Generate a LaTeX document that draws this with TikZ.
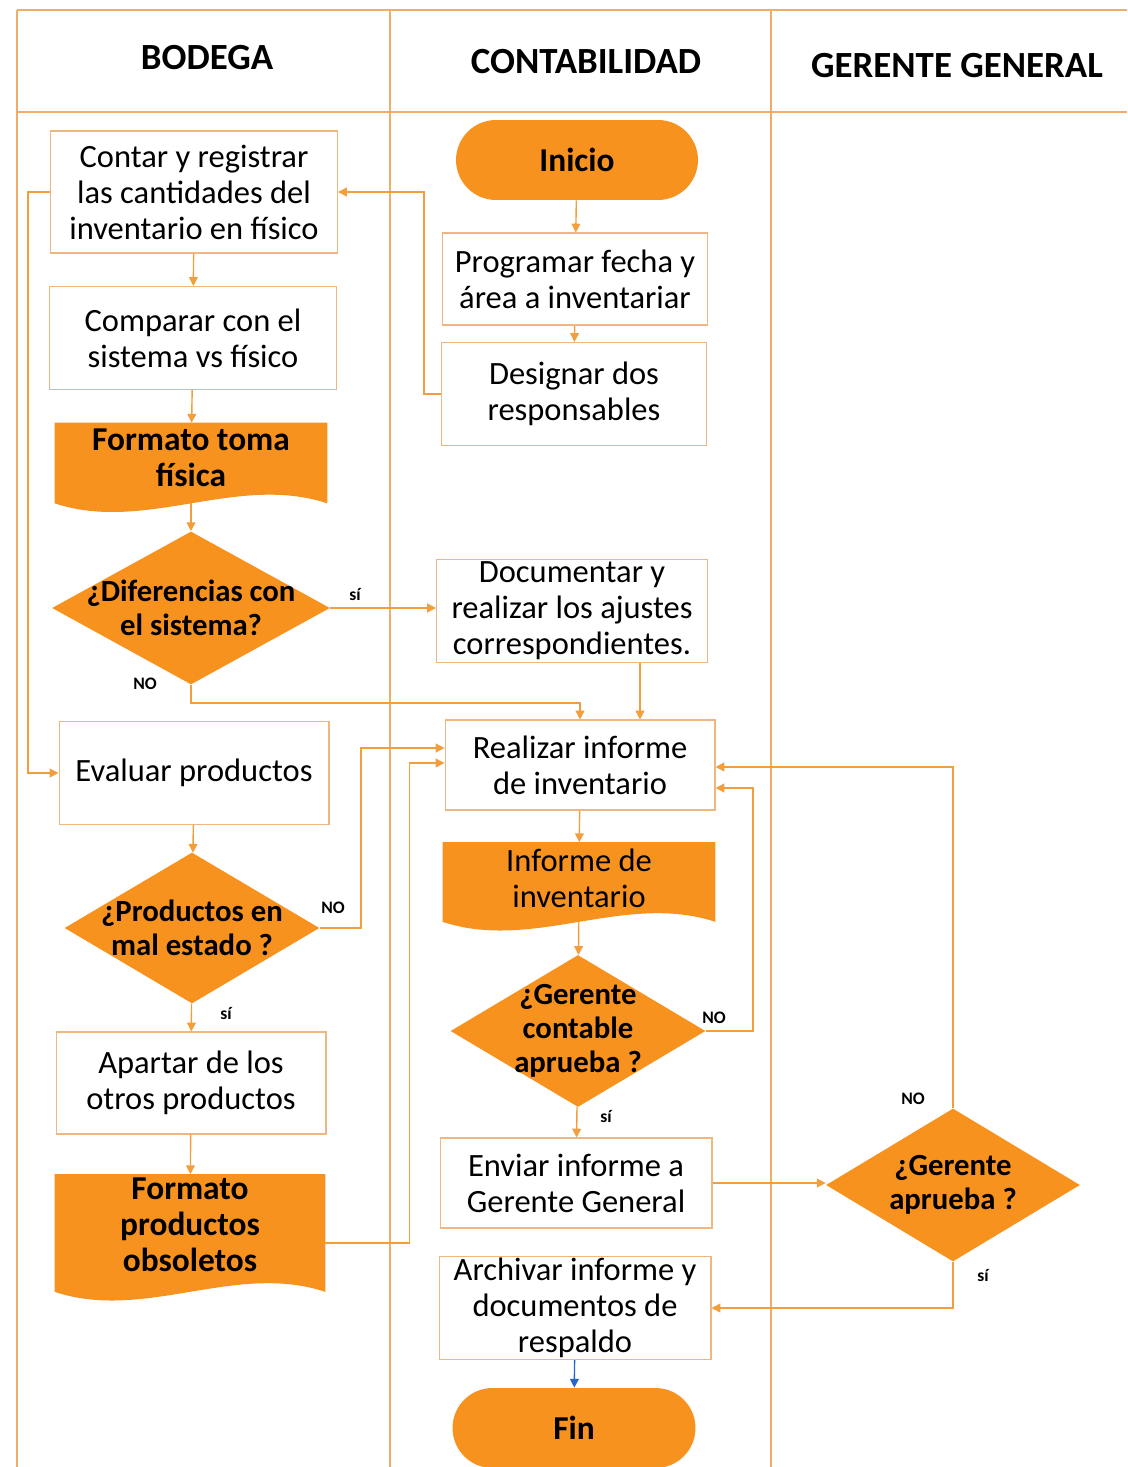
\documentclass[tikz,border=0pt]{standalone}
\usepackage{fontspec}
\setmainfont{Carlito}
\usetikzlibrary{shapes.geometric,arrows.meta,calc,backgrounds}
\definecolor{ofill}{RGB}{247,146,30}
\definecolor{connc}{RGB}{242,158,60}
\definecolor{boxline}{RGB}{240,182,130}
\definecolor{lanec}{RGB}{240,172,105}
\definecolor{bluec}{RGB}{40,100,205}
\newcommand{\docfill}[1]{\fill[ofill] (#1.north west) -- (#1.north east) -- (#1.south east) .. controls ($(#1.south east)!0.3333!(#1.south west)+(0,0.6cm)$) and ($(#1.south east)!0.6667!(#1.south west)+(0,-0.6cm)$) .. (#1.south west) -- cycle;}
\begin{document}
\begin{tikzpicture}[x=0.02cm,y=-0.02cm,
  box/.style={draw=boxline,line width=0.6pt,align=center,inner sep=0pt,font=\fontsize{18.5}{20.5}\selectfont},
  term/.style={fill=ofill,rounded corners=0.8cm,minimum height=1.6cm,inner sep=0pt,font=\bfseries\fontsize{19}{21}\selectfont},
  dia/.style={diamond,fill=ofill,inner sep=0pt},
  dtext/.style={font=\bfseries\fontsize{17.5}{19.5}\selectfont,align=center},
  docn/.style={inner sep=0pt},
  doctext/.style={font=\bfseries\fontsize{19}{20.5}\selectfont,align=center},
  conn/.style={draw=connc,line width=0.8pt,-{Triangle[width=5pt,length=5pt]}},
  lbl/.style={font=\bfseries\fontsize{10}{12}\selectfont},
  head/.style={font=\bfseries\fontsize{21}{24}\selectfont},
  lane/.style={draw=lanec,line width=0.7pt}
]
\useasboundingbox (0,0) rectangle (1127,1467);
% lanes
\draw[lane] (17,10) -- (1127,10);
\draw[lane] (17,112) -- (1127,112);
\draw[lane] (17,10) -- (17,1467);
\draw[lane] (390,10) -- (390,1467);
\draw[lane] (771,10) -- (771,1467);
\node[head] (h1) at (207,58) {BODEGA};
\node[head] (h2) at (586,62) {CONTABILIDAD};
\node[head] (h3) at (957,66) {GERENTE GENERAL};

% BODEGA
\node[box,minimum width=5.74cm,minimum height=2.44cm] (contar) at (194,192) {Contar y registrar\\las cantidades del\\inventario en físico};
\node[box,minimum width=5.74cm,minimum height=2.06cm] (comparar) at (193,338) {Comparar con el\\sistema vs físico};
\node[docn,minimum width=5.44cm,minimum height=1.6cm,label={[doctext,yshift=0.1cm]center:{Formato toma\\física}}] (form1) at (191,463) {};
\node[dia,minimum width=5.56cm,minimum height=3.06cm,label={[dtext]center:{¿Diferencias con\\el sistema?}}] (dif) at (191,608) {};
\node[box,minimum width=5.4cm,minimum height=2.06cm] (evaluar) at (194,773) {Evaluar productos};
\node[dia,minimum width=5.1cm,minimum height=3.02cm,label={[dtext]center:{¿Productos en\\mal estado ?}}] (prod) at (192,928) {};
\node[box,minimum width=5.4cm,minimum height=2.04cm] (apartar) at (191,1083) {Apartar de los\\otros productos};
\node[docn,minimum width=5.4cm,minimum height=2.34cm,label={[doctext,yshift=0.16cm]center:{Formato\\productos\\obsoletos}}] (form2) at (190,1233) {};

% CONTABILIDAD
\node[term,minimum width=4.84cm] (inicio) at (577,160) {Inicio};
\node[box,minimum width=5.3cm,minimum height=1.84cm] (prog) at (575,279) {Programar fecha y\\área a inventariar};
\node[box,minimum width=5.3cm,minimum height=2.06cm] (desig) at (574,394) {Designar dos\\responsables};
\node[box,minimum width=5.42cm,minimum height=2.06cm] (docu) at (572,611) {Documentar y\\realizar los ajustes\\correspondientes.};
\node[box,minimum width=5.4cm,minimum height=1.8cm] (real) at (580,765) {Realizar informe\\de inventario};
\node[docn,minimum width=5.44cm,minimum height=1.58cm,label={[font=\fontsize{18.5}{20.5}\selectfont,align=center,yshift=0.08cm]center:{Informe de\\inventario}}] (inf) at (579,882) {};
\node[dia,minimum width=5.1cm,minimum height=3.04cm,label={[dtext]center:{¿Gerente\\contable\\aprueba ?}}] (gcont) at (578,1031) {};
\node[box,minimum width=5.44cm,minimum height=1.8cm] (enviar) at (576,1183) {Enviar informe a\\Gerente General};
\node[box,minimum width=5.44cm,minimum height=2.06cm] (arch) at (575,1308) {Archivar informe y\\documentos de\\respaldo};
\node[term,minimum width=4.86cm] (fin) at (574,1428) {Fin};

% GERENTE GENERAL
\node[dia,minimum width=5.08cm,minimum height=3.06cm,label={[dtext]center:{¿Gerente\\aprueba ?}}] (gap) at (953,1185) {};

\begin{scope}[on background layer]
\docfill{form1}
\docfill{form2}
\docfill{inf}
\end{scope}

% connectors
\draw[conn] (inicio) -- (prog);
\draw[conn] (prog) -- (desig);
\draw[conn] (desig.west) -- ++(-17,0) |- (contar.east);
\draw[conn] (contar) -- (comparar);
\draw[conn] (contar.west) -- ++(-22,0) |- (evaluar.west);
\draw[conn] (comparar) -- (form1);
\draw[conn] (form1) -- (dif);
\draw[conn] (dif.east) -- (dif.east -| docu.west);
\draw[conn] (dif.south) -- ++(0,18) -| (real.north);
\coordinate (d1) at ($(docu.south)+(68,0)$);
\draw[conn] (d1) -- (d1 |- real.north);
\draw[conn] (evaluar) -- (prod);
\coordinate (rw1) at ($(real.west)+(0,-17)$);
\draw[conn] (prod.east) -- ++(41,0) |- (rw1);
\draw[conn] (prod) -- (apartar);
\draw[conn] (apartar) -- (form2);
\coordinate (f2e) at ($(form2.east)+(0,10)$);
\coordinate (rw2) at ($(real.west)+(0,-2)$);
\draw[conn] (f2e) -- ++(84,0) |- (rw2);
\draw[conn] (real) -- (inf);
\draw[conn] (inf) -- (gcont);
\coordinate (re1) at ($(real.east)+(0,23)$);
\draw[conn] (gcont.east) -- ++(47,0) |- (re1);
\draw[conn] (gcont) -- (enviar);
\draw[conn] (enviar.east) -- (enviar.east -| gap.west);
\coordinate (re2) at ($(real.east)+(0,2)$);
\draw[conn] (gap.north) |- (re2);
\draw[conn] (gap.south) |- (arch.east);
\draw[draw=bluec,line width=0.8pt,-{Triangle[width=5pt,length=5pt]}] (arch) -- (fin);

% labels
\node[lbl] (l1) at (355,594) {sí};
\node[lbl] (l2) at (145,684) {NO};
\node[lbl] (l3) at (333,908) {NO};
\node[lbl] (l4) at (226,1013) {sí};
\node[lbl] (l5) at (714,1018) {NO};
\node[lbl] (l6) at (606,1116) {sí};
\node[lbl] (l7) at (913,1099) {NO};
\node[lbl] (l8) at (983,1275) {sí};
\end{tikzpicture}
\end{document}
